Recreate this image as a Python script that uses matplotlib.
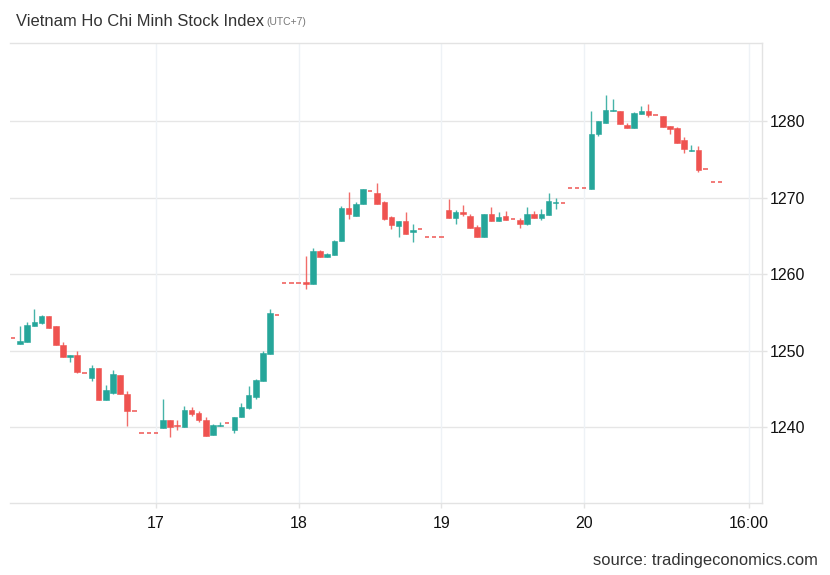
import numpy as np
import matplotlib
matplotlib.use('Agg')
import matplotlib.pyplot as plt

plt.rcParams['font.family'] = ['Liberation Sans', 'DejaVu Sans']

# OHLC per slot (20 slots per day, 16th .. 20th)
opens = [1251.7, 1250.9, 1251.2, 1253.2, 1253.6, 1254.5, 1253.2, 1250.8, 1249.2, 1249.4,
         1247.1, 1246.4, 1247.8, 1243.5, 1244.5, 1246.8, 1244.4, 1242.1, 1239.2, 1239.2,
         1239.2, 1239.9, 1240.9, 1240.3, 1240.0, 1242.2, 1241.8, 1241.0, 1239.0, 1240.1,
         1240.5, 1239.7, 1241.35, 1242.5, 1244.0, 1246.1, 1249.6, 1254.7, 1258.9, 1258.9,
         1258.9, 1258.95, 1258.75, 1263.0, 1262.3, 1262.5, 1264.35, 1268.7, 1267.6, 1269.1,
         1270.9, 1270.55, 1269.4, 1267.5, 1266.3, 1266.9, 1265.5, 1265.85, 1264.85, 1264.85,
         1264.85, 1268.4, 1267.3, 1268.1, 1267.6, 1266.2, 1264.9, 1267.8, 1267.0, 1267.6,
         1267.15, 1267.1, 1266.6, 1267.9, 1267.4, 1267.7, 1269.25, 1269.3, 1271.2, 1271.2,
         1271.2, 1271.15, 1278.3, 1279.8, 1281.35, 1281.35, 1279.45, 1279.05, 1280.95, 1281.35,
         1280.75, 1280.65, 1279.35, 1279.05, 1277.5, 1276.05, 1276.2, 1273.7, 1272.05, 1272.05]
highs = [1251.7, 1253.2, 1253.7, 1255.5, 1254.7, 1254.5, 1253.2, 1251.1, 1249.5, 1249.9,
         1247.1, 1248.1, 1247.8, 1245.5, 1247.5, 1246.8, 1244.7, 1242.1, 1239.2, 1239.2,
         1239.2, 1243.7, 1240.9, 1240.9, 1242.8, 1242.6, 1242.1, 1241.4, 1240.4, 1240.7,
         1240.5, 1241.35, 1243.2, 1245.4, 1246.3, 1249.9, 1255.4, 1254.7, 1258.9, 1258.9,
         1258.9, 1262.35, 1263.45, 1263.15, 1262.7, 1264.45, 1268.85, 1270.7, 1269.4, 1271.1,
         1270.9, 1271.85, 1269.5, 1267.6, 1266.95, 1268.1, 1266.6, 1265.85, 1264.85, 1264.85,
         1264.85, 1269.8, 1268.4, 1269.0, 1267.9, 1266.4, 1267.9, 1268.8, 1268.1, 1268.2,
         1267.15, 1267.4, 1268.8, 1268.2, 1268.5, 1270.55, 1270.0, 1269.3, 1271.2, 1271.2,
         1271.2, 1281.35, 1280.05, 1283.4, 1282.85, 1281.35, 1279.8, 1281.2, 1281.95, 1282.2,
         1280.75, 1280.65, 1279.4, 1279.25, 1277.95, 1276.85, 1276.75, 1273.7, 1272.05, 1272.05]
lows = [1251.7, 1250.9, 1251.1, 1253.2, 1253.5, 1253.0, 1250.8, 1249.2, 1248.5, 1247.1,
        1247.1, 1246.1, 1243.5, 1243.5, 1244.3, 1244.4, 1240.2, 1242.1, 1239.2, 1239.2,
        1239.2, 1239.9, 1238.7, 1239.6, 1240.0, 1241.5, 1240.7, 1238.9, 1239.0, 1240.1,
        1240.5, 1239.2, 1241.35, 1242.35, 1243.7, 1246.1, 1249.6, 1254.7, 1258.9, 1258.9,
        1258.9, 1258.0, 1258.75, 1262.2, 1262.2, 1262.5, 1264.35, 1267.2, 1267.6, 1269.1,
        1270.9, 1269.1, 1267.1, 1265.9, 1264.9, 1265.3, 1264.2, 1265.85, 1264.85, 1264.85,
        1264.85, 1267.4, 1266.5, 1267.6, 1266.0, 1264.8, 1264.9, 1267.0, 1267.0, 1267.1,
        1267.15, 1266.05, 1266.4, 1267.3, 1267.05, 1267.7, 1268.5, 1269.3, 1271.2, 1271.2,
        1271.2, 1271.15, 1278.1, 1279.8, 1281.35, 1279.6, 1279.1, 1279.05, 1280.95, 1280.55,
        1280.75, 1279.25, 1278.3, 1277.2, 1275.8, 1276.05, 1273.4, 1273.7, 1272.05, 1272.05]
closes = [1251.7, 1251.3, 1253.3, 1253.8, 1254.5, 1253.0, 1250.8, 1249.2, 1249.4, 1247.2,
          1247.1, 1247.7, 1243.5, 1244.8, 1246.9, 1244.4, 1242.1, 1242.1, 1239.2, 1239.2,
          1239.2, 1240.9, 1240.0, 1240.1, 1242.2, 1241.7, 1240.9, 1238.9, 1240.35, 1240.35,
          1240.5, 1241.35, 1242.65, 1244.2, 1246.2, 1249.7, 1254.9, 1254.7, 1258.9, 1258.9,
          1258.9, 1258.75, 1263.0, 1262.2, 1262.6, 1264.3, 1268.7, 1267.8, 1269.2, 1271.1,
          1270.9, 1269.1, 1267.2, 1266.4, 1266.9, 1265.3, 1265.75, 1265.85, 1264.85, 1264.85,
          1264.85, 1267.4, 1268.1, 1267.8, 1266.0, 1264.8, 1267.8, 1267.0, 1267.5, 1267.1,
          1267.15, 1266.6, 1267.9, 1267.4, 1267.8, 1269.55, 1269.4, 1269.3, 1271.2, 1271.2,
          1271.2, 1278.3, 1280.0, 1281.45, 1281.5, 1279.6, 1279.1, 1281.1, 1281.35, 1280.75,
          1280.75, 1279.25, 1278.95, 1277.2, 1276.35, 1276.2, 1273.6, 1273.7, 1272.05, 1272.05]

day_ticks = [20, 40, 60, 80, 103.1]
day_labels = ['17', '18', '19', '20', '16:00']
y_ticks = [1240, 1250, 1260, 1270, 1280]

up_col = '#26a69a'
down_col = '#ef5350'

o = np.array(opens)
h = np.array(highs)
l = np.array(lows)
c = np.array(closes)
x = np.arange(len(o))
up = c > o
flat = c == o
cols = np.where(up, up_col, down_col)

fig = plt.figure(figsize=(8.3, 5.75), dpi=100)
ax = fig.add_axes([10/830, 72/575, 752/830, 460/575])

# grid
for yt in y_ticks:
    ax.axhline(yt, color='#e6e6e6', lw=1, zorder=0)
for xt in day_ticks:
    ax.axvline(xt, color='#eef2f6', lw=1, zorder=0)

# candles
body = ~flat
ax.vlines(x[body], l[body], h[body], colors=cols[body], lw=1, alpha=0.85, zorder=2)
ax.bar(x[body], (c - o)[body], bottom=o[body], width=0.78, color=cols[body],
       edgecolor=cols[body], linewidth=0.4, zorder=3)
ax.hlines(c[flat], x[flat] - 0.3, x[flat] + 0.3, colors=down_col, lw=1.2, alpha=0.9, zorder=3)

ax.set_xlim(-0.42, 104.9)
ax.set_ylim(1230.1, 1290.2)

ax.set_xticks(day_ticks)
ax.set_xticklabels(day_labels)
ax.set_yticks(y_ticks)
ax.yaxis.tick_right()
ax.tick_params(axis='both', length=3.6, width=1, color='#e3e3e3',
               labelsize=11.5, labelcolor='#111111')
ax.tick_params(axis='y', pad=2.2)
ax.tick_params(axis='x', pad=6)

for side in ['top', 'right', 'bottom']:
    ax.spines[side].set_color('#e3e3e3')
    ax.spines[side].set_linewidth(1)
ax.spines['left'].set_visible(False)

fig.text(16/830, 1 - 21/575, 'Vietnam Ho Chi Minh Stock Index', fontsize=11.9,
         color='#333333', va='center', ha='left')
fig.text(266/830, 1 - 22/575, '(UTC+7)', fontsize=7.5, color='#777777', va='center', ha='left')
fig.text(818/830, 1 - 560/575, 'source: tradingeconomics.com', fontsize=11.9,
         color='#333333', va='center', ha='right')

fig.savefig('out.png', dpi=100)
